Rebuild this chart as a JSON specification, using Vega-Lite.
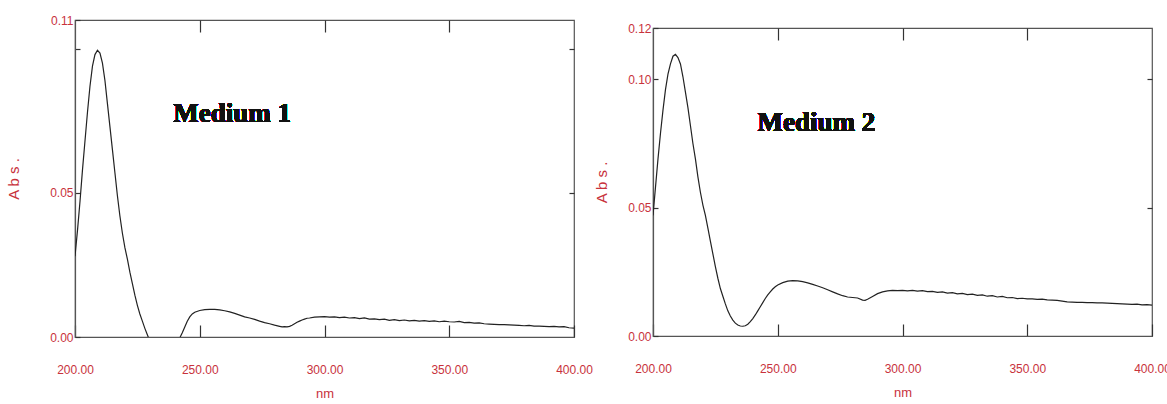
{
  "$schema": "https://vega.github.io/schema/vega-lite/v6.json",
  "background": "white",
  "padding": {"left": 6, "top": 13, "right": 0, "bottom": 0},
  "spacing": 1,
  "config": {
    "view": {"stroke": "#555", "strokeWidth": 1.2},
    "axis": {
      "grid": false,
      "labelColor": "#c8323c",
      "labelFont": "Liberation Sans, sans-serif",
      "labelFontSize": 12,
      "labelFlush": false,
      "labelOverlap": false,
      "titleColor": "#c8323c",
      "titleFont": "Liberation Sans, sans-serif",
      "titleFontWeight": "normal",
      "domainColor": "#555",
      "domainWidth": 1.2,
      "tickColor": "#333",
      "tickWidth": 1.2
    }
  },
  "datasets": {
    "m1": [
      {"nm":200,"abs":0.028},{"nm":201,"abs":0.037},{"nm":202,"abs":0.047},{"nm":203,"abs":0.058},{"nm":204,"abs":0.068},{"nm":205,"abs":0.078},{"nm":206,"abs":0.087},{"nm":207,"abs":0.094},{"nm":208,"abs":0.098},{"nm":209,"abs":0.0995},{"nm":210,"abs":0.0985},{"nm":211,"abs":0.095},{"nm":212,"abs":0.089},{"nm":213,"abs":0.081},{"nm":214,"abs":0.073},{"nm":215,"abs":0.065},{"nm":216,"abs":0.057},{"nm":217,"abs":0.049},{"nm":218,"abs":0.042},{"nm":219,"abs":0.036},{"nm":220,"abs":0.031},{"nm":221,"abs":0.027},{"nm":222,"abs":0.0225},{"nm":223,"abs":0.0185},{"nm":224,"abs":0.0145},{"nm":225,"abs":0.011},{"nm":226,"abs":0.008},{"nm":227,"abs":0.0055},{"nm":228,"abs":0.003},{"nm":229,"abs":0.0008},{"nm":230,"abs":-0.0015},{"nm":232,"abs":-0.005},{"nm":235,"abs":-0.008},{"nm":238,"abs":-0.0065},{"nm":240,"abs":-0.004},{"nm":242,"abs":-0.0003},{"nm":243,"abs":0.0015},{"nm":244,"abs":0.0035},{"nm":245,"abs":0.0055},{"nm":246,"abs":0.007},{"nm":247,"abs":0.008},{"nm":248,"abs":0.0086},{"nm":250,"abs":0.0092},{"nm":252,"abs":0.0095},{"nm":254,"abs":0.0096},{"nm":256,"abs":0.0096},{"nm":258,"abs":0.0094},{"nm":260,"abs":0.0091},{"nm":262,"abs":0.0087},{"nm":264,"abs":0.0082},{"nm":266,"abs":0.0076},{"nm":268,"abs":0.007},{"nm":270,"abs":0.0066},{"nm":272,"abs":0.0061},{"nm":274,"abs":0.0055},{"nm":276,"abs":0.005},{"nm":278,"abs":0.0046},{"nm":280,"abs":0.0041},{"nm":282,"abs":0.0037},{"nm":283,"abs":0.0035},{"nm":284,"abs":0.0036},{"nm":285,"abs":0.0035},{"nm":286,"abs":0.0037},{"nm":287,"abs":0.0041},{"nm":288,"abs":0.0046},{"nm":289,"abs":0.0051},{"nm":290,"abs":0.0055},{"nm":291,"abs":0.0059},{"nm":292,"abs":0.0062},{"nm":293,"abs":0.0065},{"nm":294,"abs":0.0066},{"nm":296,"abs":0.0069},{"nm":298,"abs":0.007},{"nm":300,"abs":0.0071},{"nm":302,"abs":0.0069},{"nm":304,"abs":0.007},{"nm":306,"abs":0.0067},{"nm":308,"abs":0.0069},{"nm":310,"abs":0.0066},{"nm":312,"abs":0.0067},{"nm":314,"abs":0.0064},{"nm":316,"abs":0.0066},{"nm":318,"abs":0.0062},{"nm":320,"abs":0.0063},{"nm":322,"abs":0.006},{"nm":324,"abs":0.0062},{"nm":326,"abs":0.0058},{"nm":328,"abs":0.006},{"nm":330,"abs":0.0057},{"nm":332,"abs":0.0059},{"nm":334,"abs":0.0056},{"nm":336,"abs":0.0058},{"nm":338,"abs":0.0055},{"nm":340,"abs":0.0057},{"nm":342,"abs":0.0054},{"nm":344,"abs":0.0056},{"nm":346,"abs":0.0053},{"nm":348,"abs":0.0055},{"nm":350,"abs":0.0053},{"nm":352,"abs":0.0052},{"nm":354,"abs":0.0054},{"nm":356,"abs":0.005},{"nm":358,"abs":0.0051},{"nm":360,"abs":0.0048},{"nm":362,"abs":0.0049},{"nm":364,"abs":0.0046},{"nm":366,"abs":0.0045},{"nm":368,"abs":0.0044},{"nm":370,"abs":0.0043},{"nm":372,"abs":0.0043},{"nm":374,"abs":0.0042},{"nm":376,"abs":0.0041},{"nm":378,"abs":0.004},{"nm":380,"abs":0.0039},{"nm":382,"abs":0.004},{"nm":384,"abs":0.0038},{"nm":386,"abs":0.0038},{"nm":388,"abs":0.0037},{"nm":390,"abs":0.0036},{"nm":392,"abs":0.0037},{"nm":394,"abs":0.0035},{"nm":396,"abs":0.0036},{"nm":398,"abs":0.0032},{"nm":400,"abs":0.0031}
    ],
    "m2": [
      {"nm":200,"abs":0.047},{"nm":201,"abs":0.058},{"nm":202,"abs":0.069},{"nm":203,"abs":0.079},{"nm":204,"abs":0.088},{"nm":205,"abs":0.096},{"nm":206,"abs":0.102},{"nm":207,"abs":0.106},{"nm":208,"abs":0.109},{"nm":209,"abs":0.1097},{"nm":210,"abs":0.1085},{"nm":211,"abs":0.106},{"nm":212,"abs":0.101},{"nm":213,"abs":0.095},{"nm":214,"abs":0.089},{"nm":215,"abs":0.082},{"nm":216,"abs":0.075},{"nm":217,"abs":0.069},{"nm":218,"abs":0.062},{"nm":219,"abs":0.056},{"nm":220,"abs":0.051},{"nm":221,"abs":0.047},{"nm":222,"abs":0.042},{"nm":223,"abs":0.037},{"nm":224,"abs":0.032},{"nm":225,"abs":0.027},{"nm":226,"abs":0.0225},{"nm":227,"abs":0.0185},{"nm":228,"abs":0.0155},{"nm":229,"abs":0.0125},{"nm":230,"abs":0.0098},{"nm":231,"abs":0.0078},{"nm":232,"abs":0.0062},{"nm":233,"abs":0.005},{"nm":234,"abs":0.0043},{"nm":235,"abs":0.0039},{"nm":236,"abs":0.0038},{"nm":237,"abs":0.004},{"nm":238,"abs":0.0046},{"nm":239,"abs":0.0056},{"nm":240,"abs":0.0068},{"nm":241,"abs":0.0082},{"nm":242,"abs":0.0098},{"nm":243,"abs":0.0114},{"nm":244,"abs":0.013},{"nm":245,"abs":0.0146},{"nm":246,"abs":0.016},{"nm":247,"abs":0.0172},{"nm":248,"abs":0.0183},{"nm":249,"abs":0.0192},{"nm":250,"abs":0.0199},{"nm":252,"abs":0.0208},{"nm":254,"abs":0.0214},{"nm":256,"abs":0.0216},{"nm":258,"abs":0.0215},{"nm":260,"abs":0.0212},{"nm":262,"abs":0.0207},{"nm":264,"abs":0.0201},{"nm":266,"abs":0.0195},{"nm":268,"abs":0.0188},{"nm":270,"abs":0.018},{"nm":272,"abs":0.0172},{"nm":274,"abs":0.0164},{"nm":276,"abs":0.0157},{"nm":278,"abs":0.0152},{"nm":280,"abs":0.015},{"nm":282,"abs":0.0148},{"nm":284,"abs":0.014},{"nm":285,"abs":0.0139},{"nm":286,"abs":0.0143},{"nm":288,"abs":0.0154},{"nm":290,"abs":0.0165},{"nm":292,"abs":0.0172},{"nm":294,"abs":0.0176},{"nm":296,"abs":0.0178},{"nm":298,"abs":0.0177},{"nm":300,"abs":0.0178},{"nm":302,"abs":0.0176},{"nm":304,"abs":0.0178},{"nm":306,"abs":0.0175},{"nm":308,"abs":0.0177},{"nm":310,"abs":0.0173},{"nm":312,"abs":0.0174},{"nm":314,"abs":0.017},{"nm":316,"abs":0.0172},{"nm":318,"abs":0.0167},{"nm":320,"abs":0.0169},{"nm":322,"abs":0.0164},{"nm":324,"abs":0.0166},{"nm":326,"abs":0.0161},{"nm":328,"abs":0.0163},{"nm":330,"abs":0.0158},{"nm":332,"abs":0.016},{"nm":334,"abs":0.0155},{"nm":336,"abs":0.0157},{"nm":338,"abs":0.0152},{"nm":340,"abs":0.0154},{"nm":342,"abs":0.0149},{"nm":344,"abs":0.015},{"nm":346,"abs":0.0146},{"nm":348,"abs":0.0147},{"nm":350,"abs":0.0145},{"nm":352,"abs":0.0145},{"nm":354,"abs":0.0143},{"nm":356,"abs":0.0144},{"nm":358,"abs":0.0141},{"nm":360,"abs":0.014},{"nm":362,"abs":0.0139},{"nm":364,"abs":0.0136},{"nm":366,"abs":0.0133},{"nm":368,"abs":0.0132},{"nm":370,"abs":0.0131},{"nm":372,"abs":0.0131},{"nm":374,"abs":0.013},{"nm":376,"abs":0.013},{"nm":378,"abs":0.0129},{"nm":380,"abs":0.0129},{"nm":382,"abs":0.0128},{"nm":384,"abs":0.0127},{"nm":386,"abs":0.0126},{"nm":388,"abs":0.0125},{"nm":390,"abs":0.0124},{"nm":392,"abs":0.0123},{"nm":394,"abs":0.0124},{"nm":396,"abs":0.0121},{"nm":398,"abs":0.0122},{"nm":400,"abs":0.012}
    ]
  },
  "hconcat": [
    {
      "width": 499,
      "height": 317,
      "data": {"name": "m1"},
      "layer": [
        {
          "mark": {"type": "line", "color": "#222", "strokeWidth": 1.2, "clip": true},
          "encoding": {
            "x": {"field": "nm", "type": "quantitative", "scale": {"domain": [200, 400], "nice": false, "zero": false},
              "axis": {"orient": "bottom", "values": [200, 250, 300, 350, 400], "format": ".2f", "title": "nm", "titleFontSize": 13, "titlePadding": 12, "tickSize": -12, "labelPadding": 39}},
            "y": {"field": "abs", "type": "quantitative", "scale": {"domain": [0, 0.11], "nice": false, "zero": false},
              "axis": {"orient": "left", "values": [0, 0.05, 0.1, 0.11], "labelExpr": "datum.value == 0.1 ? '' : format(datum.value, '.2f')", "title": "A b s .", "titleFontSize": 15, "titlePadding": 28, "tickSize": -5, "labelPadding": 7}}
          }
        },
        {
          "mark": {"type": "line", "opacity": 0, "clip": true},
          "encoding": {
            "x": {"field": "nm", "type": "quantitative", "axis": {"orient": "top", "values": [250, 300, 350], "labels": false, "title": null, "tickSize": -12, "domain": false}},
            "y": {"field": "abs", "type": "quantitative", "axis": {"orient": "right", "values": [0.05, 0.1], "labels": false, "title": null, "tickSize": -5, "domain": false}}
          }
        },
        {
          "mark": {"type": "text", "text": "Medium 1", "font": "Liberation Serif", "fontWeight": "bold", "fontSize": 27, "color": "#111"},
          "encoding": {
            "x": {"datum": 263, "type": "quantitative", "axis": null},
            "y": {"datum": 0.0775, "type": "quantitative", "axis": null}
          }
        }
      ]
    },
    {
      "spacing": 0,
      "vconcat": [
        {
          "width": 499,
          "height": 1,
          "view": {"stroke": null},
          "data": {"values": []},
          "mark": "point"
        },
        {
          "width": 499,
          "height": 308,
          "data": {"name": "m2"},
          "layer": [
            {
              "mark": {"type": "line", "color": "#222", "strokeWidth": 1.2, "clip": true},
              "encoding": {
                "x": {"field": "nm", "type": "quantitative", "scale": {"domain": [200, 400], "nice": false, "zero": false},
                  "axis": {"orient": "bottom", "values": [200, 250, 300, 350, 400], "format": ".2f", "title": "nm", "titleFontSize": 13, "titlePadding": 12, "tickSize": -12, "labelPadding": 39}},
                "y": {"field": "abs", "type": "quantitative", "scale": {"domain": [0, 0.12], "nice": false, "zero": false},
                  "axis": {"orient": "left", "values": [0, 0.05, 0.1, 0.12], "format": ".2f", "title": "A b s .", "titleFontSize": 15, "titlePadding": 18, "tickSize": -5, "labelPadding": 7}}
              }
            },
            {
              "mark": {"type": "line", "opacity": 0, "clip": true},
              "encoding": {
                "x": {"field": "nm", "type": "quantitative", "axis": {"orient": "top", "values": [250, 300, 350], "labels": false, "title": null, "tickSize": -12, "domain": false}},
                "y": {"field": "abs", "type": "quantitative", "axis": {"orient": "right", "values": [0.05, 0.1], "labels": false, "title": null, "tickSize": -5, "domain": false}}
              }
            },
            {
              "mark": {"type": "text", "text": "Medium 2", "font": "Liberation Serif", "fontWeight": "bold", "fontSize": 27, "color": "#111"},
              "encoding": {
                "x": {"datum": 265.5, "type": "quantitative", "axis": null},
                "y": {"datum": 0.083, "type": "quantitative", "axis": null}
              }
            }
          ]
        }
      ]
    }
  ]
}
